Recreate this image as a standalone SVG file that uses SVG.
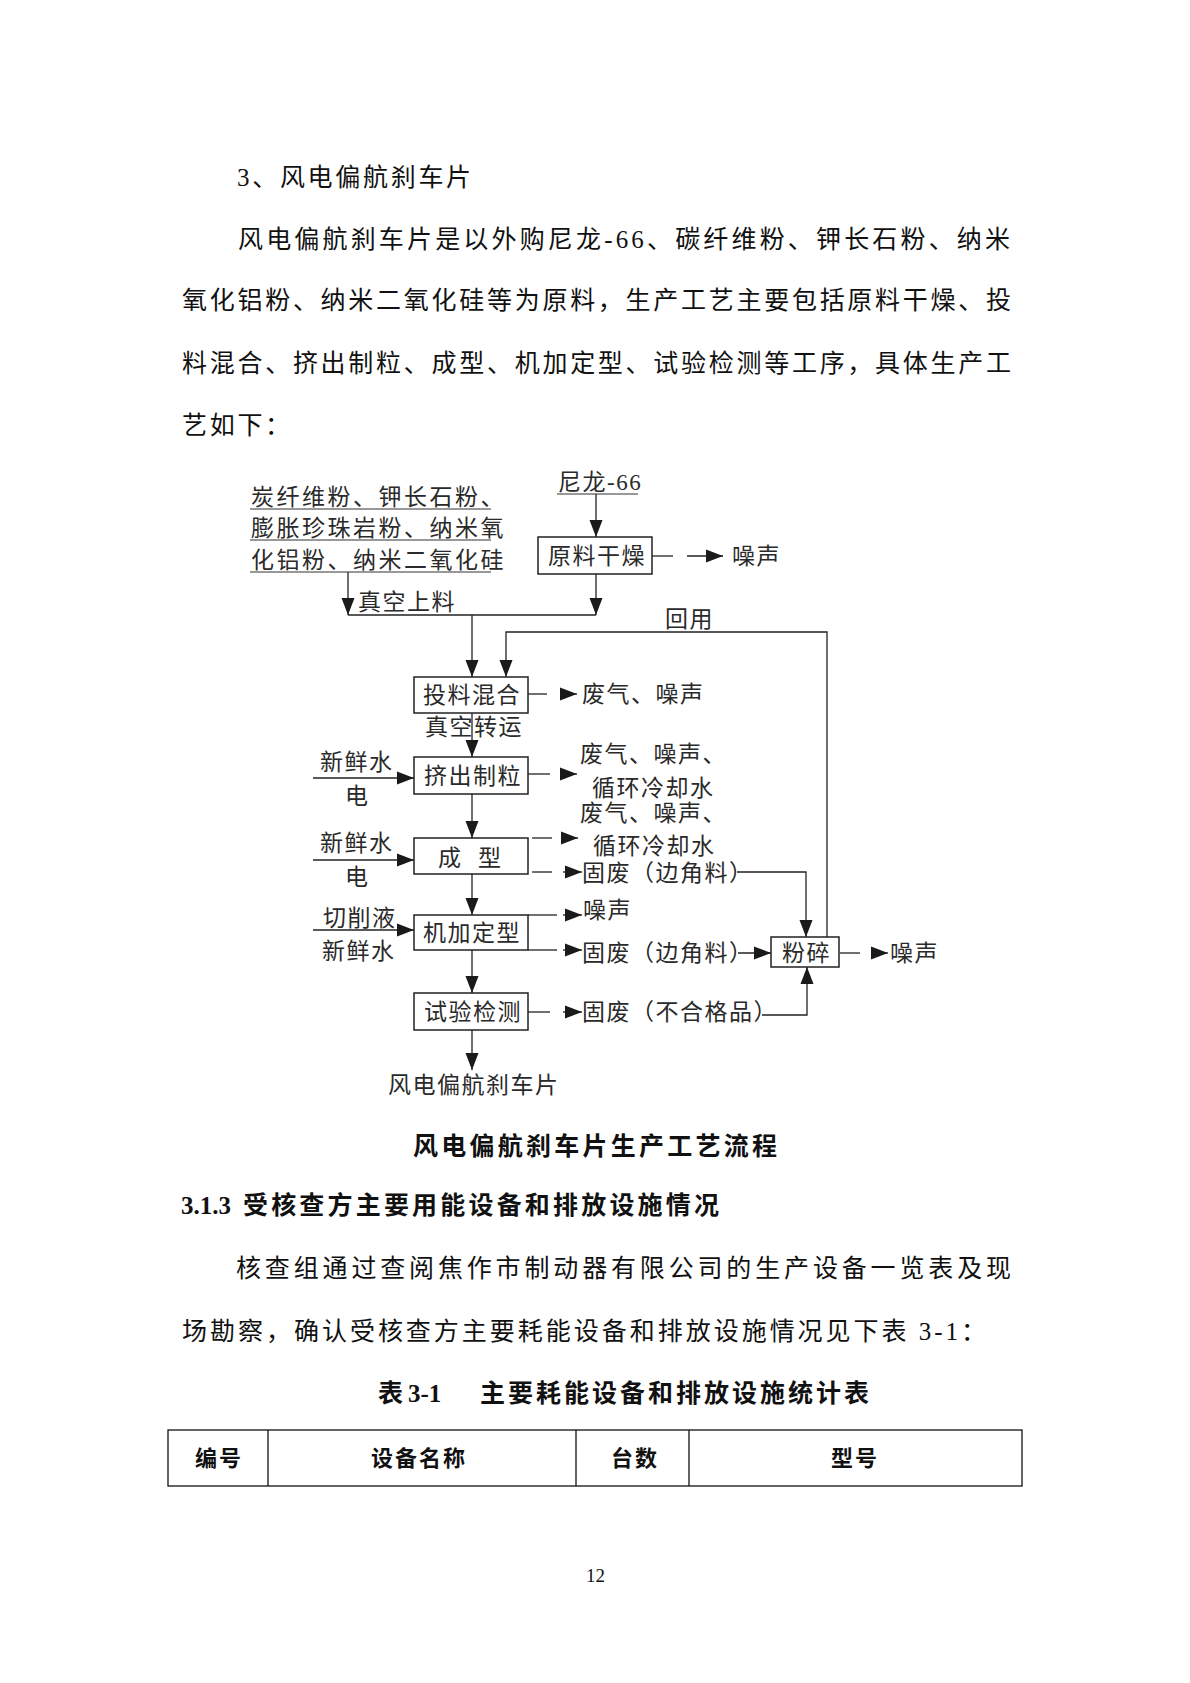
<svg xmlns="http://www.w3.org/2000/svg" width="1190" height="1683" viewBox="0 0 1190 1683">
<style>
text { font-family: "Liberation Serif", "Noto Sans CJK SC", serif; }
.body { font-size: 25px; fill: #111; }
.sp { letter-spacing: 2.7px; }
.b { font-weight: bold; }
.d { font-size: 23px; fill: #2a2a2a; letter-spacing: 1.5px; }
.d2 { letter-spacing: 2.5px; }
.th { font-size: 22px; font-weight: bold; fill: #111; letter-spacing: 2px; text-anchor: middle; }
.box { fill: #fff; stroke: #222; stroke-width: 1.5; }
.ln { fill: none; stroke: #222; stroke-width: 1.3; }
.ul { stroke: #333; stroke-width: 1.2; }
.tb { fill: none; stroke: #111; stroke-width: 1.3; }
</style>
<defs>
<marker id="ah" markerUnits="userSpaceOnUse" markerWidth="18" markerHeight="14" refX="17" refY="7" orient="auto" viewBox="0 0 18 14">
<path d="M0,0.5 L17,7 L0,13.5 z" fill="#1a1a1a"/>
</marker>
</defs>
<rect x="0" y="0" width="1190" height="1683" fill="#fff"/>

<g id="page-text">
<text class="body sp" x="237" y="186">3、风电偏航刹车片</text>
<text class="body" x="238" y="248" textLength="772" lengthAdjust="spacing">风电偏航刹车片是以外购尼龙-66、碳纤维粉、钾长石粉、纳米</text>
<text class="body" x="182" y="309" textLength="829" lengthAdjust="spacing">氧化铝粉、纳米二氧化硅等为原料，生产工艺主要包括原料干燥、投</text>
<text class="body" x="182" y="372" textLength="829" lengthAdjust="spacing">料混合、挤出制粒、成型、机加定型、试验检测等工序，具体生产工</text>
<text class="body sp" x="182" y="434">艺如下：</text>
<text class="body b" x="413" y="1155" textLength="364" lengthAdjust="spacing">风电偏航刹车片生产工艺流程</text>
<text class="body b" y="1214"><tspan x="181">3.1.3</tspan><tspan x="243" textLength="476" lengthAdjust="spacing">受核查方主要用能设备和排放设施情况</tspan></text>
<text class="body" x="236" y="1277" textLength="775" lengthAdjust="spacing">核查组通过查阅焦作市制动器有限公司的生产设备一览表及现</text>
<text class="body" x="182" y="1340" textLength="804" lengthAdjust="spacing">场勘察，确认受核查方主要耗能设备和排放设施情况见下表 3-1：</text>
<text class="body b" y="1402"><tspan x="378">表</tspan><tspan x="408">3-1</tspan><tspan x="480" letter-spacing="3">主要耗能设备和排放设施统计表</tspan></text>
<text x="586" y="1582" font-size="19" fill="#111">12</text>
</g>

<g id="table">
<rect class="tb" x="168" y="1430" width="854" height="56"/>
<line class="tb" x1="268" y1="1430" x2="268" y2="1486"/>
<line class="tb" x1="576" y1="1430" x2="576" y2="1486"/>
<line class="tb" x1="689" y1="1430" x2="689" y2="1486"/>
<text class="th" x="219" y="1466">编号</text>
<text class="th" x="419" y="1466">设备名称</text>
<text class="th" x="635" y="1466">台数</text>
<text class="th" x="855" y="1466">型号</text>
</g>

<g id="connectors">
<path class="ln" d="M596,494 V537" marker-end="url(#ah)"/>
<path class="ln" d="M596,574 V615" marker-end="url(#ah)"/>
<path class="ln" d="M348,572 V615" marker-end="url(#ah)"/>
<path class="ln" d="M348,615 H596"/>
<path class="ln" d="M472,615 V677" marker-end="url(#ah)"/>
<path class="ln" d="M652,556 H673"/>
<path class="ln" d="M687,556 H723" marker-end="url(#ah)"/>
<path class="ln" d="M528,694 H547"/>
<path class="ln" d="M560,694 H577" marker-end="url(#ah)"/>
<path class="ln" d="M472,713 V757" marker-end="url(#ah)"/>
<path class="ln" d="M313,778 H414" marker-end="url(#ah)"/>
<path class="ln" d="M528,774 H550"/>
<path class="ln" d="M560,774 H577" marker-end="url(#ah)"/>
<path class="ln" d="M472,794 V838" marker-end="url(#ah)"/>
<path class="ln" d="M313,860 H414" marker-end="url(#ah)"/>
<path class="ln" d="M532,838 H552"/>
<path class="ln" d="M563,838 H578" marker-end="url(#ah)"/>
<path class="ln" d="M532,872 H552"/>
<path class="ln" d="M563,872 H582" marker-end="url(#ah)"/>
<path class="ln" d="M737,872 H806 V937" marker-end="url(#ah)"/>
<path class="ln" d="M472,874 V915" marker-end="url(#ah)"/>
<path class="ln" d="M313,930 H414" marker-end="url(#ah)"/>
<path class="ln" d="M528,915 H557"/>
<path class="ln" d="M563,915 H582" marker-end="url(#ah)"/>
<path class="ln" d="M528,950 H557"/>
<path class="ln" d="M563,950 H582" marker-end="url(#ah)"/>
<path class="ln" d="M738,953 H771" marker-end="url(#ah)"/>
<path class="ln" d="M472,950 V993" marker-end="url(#ah)"/>
<path class="ln" d="M528,1012 H550"/>
<path class="ln" d="M563,1012 H582" marker-end="url(#ah)"/>
<path class="ln" d="M762,1015 H807 V967" marker-end="url(#ah)"/>
<path class="ln" d="M472,1030 V1070" marker-end="url(#ah)"/>
<path class="ln" d="M827,937 V632 H506 V677" marker-end="url(#ah)"/>
<path class="ln" d="M840,953 H860"/>
<path class="ln" d="M872,953 H888" marker-end="url(#ah)"/>
</g>

<g id="raw-materials">
<text class="d d2" x="251" y="505">炭纤维粉、钾长石粉、</text>
<line class="ul" x1="250" y1="509" x2="491" y2="509"/>
<text class="d d2" x="251" y="536">膨胀珍珠岩粉、纳米氧</text>
<line class="ul" x1="250" y1="540" x2="491" y2="540"/>
<text class="d d2" x="251" y="568">化铝粉、纳米二氧化硅</text>
<line class="ul" x1="250" y1="572" x2="491" y2="572"/>
</g>
<g id="nylon">
<text class="d" x="558" y="490">尼龙-66</text>
<line class="ul" x1="557" y1="494" x2="638" y2="494"/>
</g>
<g id="drying">
<rect class="box" x="538" y="537" width="114" height="37"/>
<text class="d" x="548" y="564">原料干燥</text>
</g>
<g id="drying-noise"><text class="d" x="732" y="564">噪声</text></g>
<g id="vacuum-feed"><text class="d" x="358" y="610">真空上料</text></g>
<g id="reuse"><text class="d" x="665" y="627">回用</text></g>
<g id="mixing">
<rect class="box" x="414" y="677" width="114" height="36"/>
<text class="d" x="423" y="703">投料混合</text>
</g>
<g id="mixing-out"><text class="d" x="582" y="702">废气、噪声</text></g>
<g id="vacuum-transfer"><text class="d" x="425" y="735">真空转运</text></g>
<g id="extrusion">
<rect class="box" x="414" y="757" width="114" height="37"/>
<text class="d" x="424" y="784">挤出制粒</text>
</g>
<g id="extrusion-in">
<text class="d" x="320" y="770">新鲜水</text>
<text class="d" x="345" y="804">电</text>
</g>
<g id="extrusion-out">
<text class="d" x="580" y="762">废气、噪声、</text>
<text class="d" x="592" y="796">循环冷却水</text>
</g>
<g id="forming">
<rect class="box" x="414" y="838" width="114" height="36"/>
<text class="d"><tspan x="438" y="866">成</tspan><tspan x="478" y="866">型</tspan></text>
</g>
<g id="forming-in">
<text class="d" x="320" y="851">新鲜水</text>
<text class="d" x="345" y="885">电</text>
</g>
<g id="forming-out">
<text class="d" x="580" y="821">废气、噪声、</text>
<text class="d" x="593" y="854">循环冷却水</text>
</g>
<g id="forming-waste"><text class="d" x="582" y="881">固废（边角料）</text></g>
<g id="machining">
<rect class="box" x="414" y="915" width="114" height="35"/>
<text class="d" x="423" y="941">机加定型</text>
</g>
<g id="machining-in">
<text class="d" x="323" y="926">切削液</text>
<text class="d" x="322" y="959">新鲜水</text>
</g>
<g id="machining-noise"><text class="d" x="583" y="918">噪声</text></g>
<g id="machining-waste"><text class="d" x="582" y="961">固废（边角料）</text></g>
<g id="testing">
<rect class="box" x="414" y="993" width="114" height="37"/>
<text class="d" x="424" y="1020">试验检测</text>
</g>
<g id="testing-waste"><text class="d" x="582" y="1020">固废（不合格品）</text></g>
<g id="product"><text class="d" x="388" y="1093">风电偏航刹车片</text></g>
<g id="crushing">
<rect class="box" x="771" y="937" width="68" height="30"/>
<text class="d" x="782" y="961">粉碎</text>
</g>
<g id="crushing-noise"><text class="d" x="890" y="961">噪声</text></g>
</svg>
